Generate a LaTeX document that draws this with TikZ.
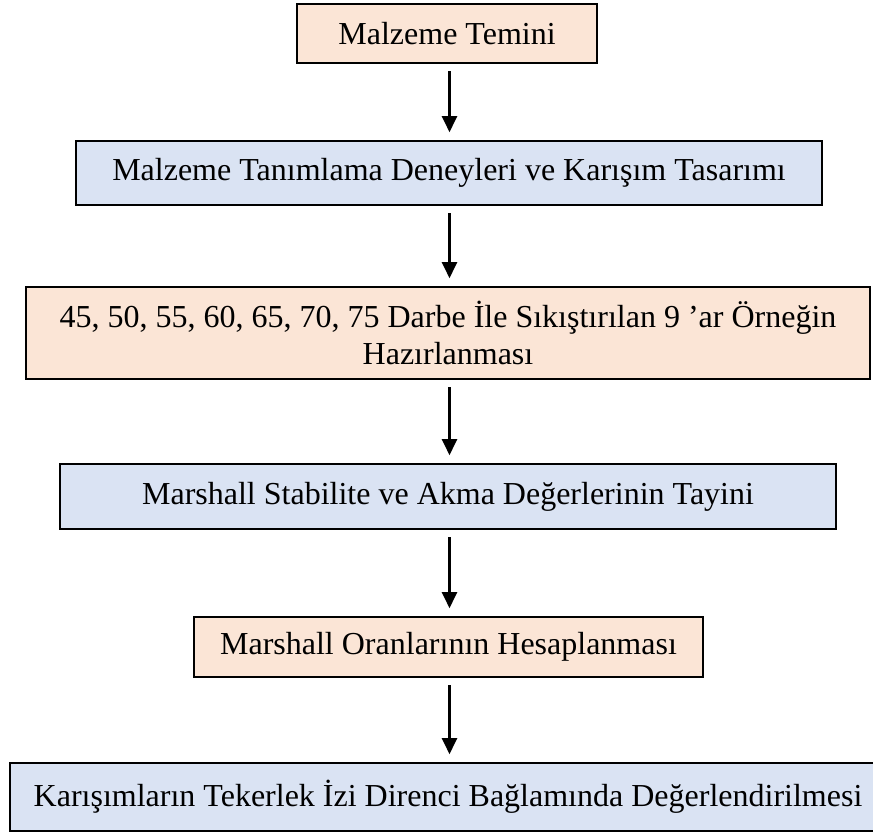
\documentclass[tikz,border=0pt]{standalone}
\usepackage{fontspec}
\setmainfont{Liberation Serif}
\usetikzlibrary{arrows.meta}
\definecolor{peach}{HTML}{FBE5D6}
\definecolor{paleblue}{HTML}{DAE3F3}
\begin{document}
\begin{tikzpicture}[x=1pt,y=-1pt,
  box/.style={draw=black, line width=1.6pt, inner sep=0pt, align=center,
    font=\fontsize{32}{37}\selectfont},
  peachbox/.style={box, fill=peach},
  bluebox/.style={box, fill=paleblue},
  arr/.style={line width=2.2pt, -{Triangle[width=15pt,length=16pt]},
    shorten <=7.5pt, shorten >=8pt}]
\useasboundingbox (0,0) rectangle (873,832);
\clip (0,0) rectangle (873,832);
\coordinate (ax) at (449.5,0);
\node[peachbox, minimum width=300pt, minimum height=59pt] (b1) at (447,33.5) {Malzeme Temini};
\node[bluebox, minimum width=746pt, minimum height=64pt] (b2) at (449,173) {Malzeme Tanımlama Deneyleri ve Karışım Tasarımı};
\node[peachbox, minimum width=844pt, minimum height=92pt] (b3) at (448,333) {45, 50, 55, 60, 65, 70, 75 Darbe İle Sıkıştırılan 9 ’ar Örneğin\\Hazırlanması};
\node[bluebox, minimum width=776pt, minimum height=65pt] (b4) at (448,496.5) {Marshall Stabilite ve Akma Değerlerinin Tayini};
\node[peachbox, minimum width=509pt, minimum height=60pt] (b5) at (448.5,647) {Marshall Oranlarının Hesaplanması};
\node[bluebox, minimum width=876pt, minimum height=68pt] (b6) at (448,797) {Karışımların Tekerlek İzi Direnci Bağlamında Değerlendirilmesi};
\draw[arr] (b1.south -| ax) -- (b2.north -| ax);
\draw[arr] (b2.south -| ax) -- (b3.north -| ax);
\draw[arr] (b3.south -| ax) -- (b4.north -| ax);
\draw[arr] (b4.south -| ax) -- (b5.north -| ax);
\draw[arr] (b5.south -| ax) -- (b6.north -| ax);
\end{tikzpicture}
\end{document}
